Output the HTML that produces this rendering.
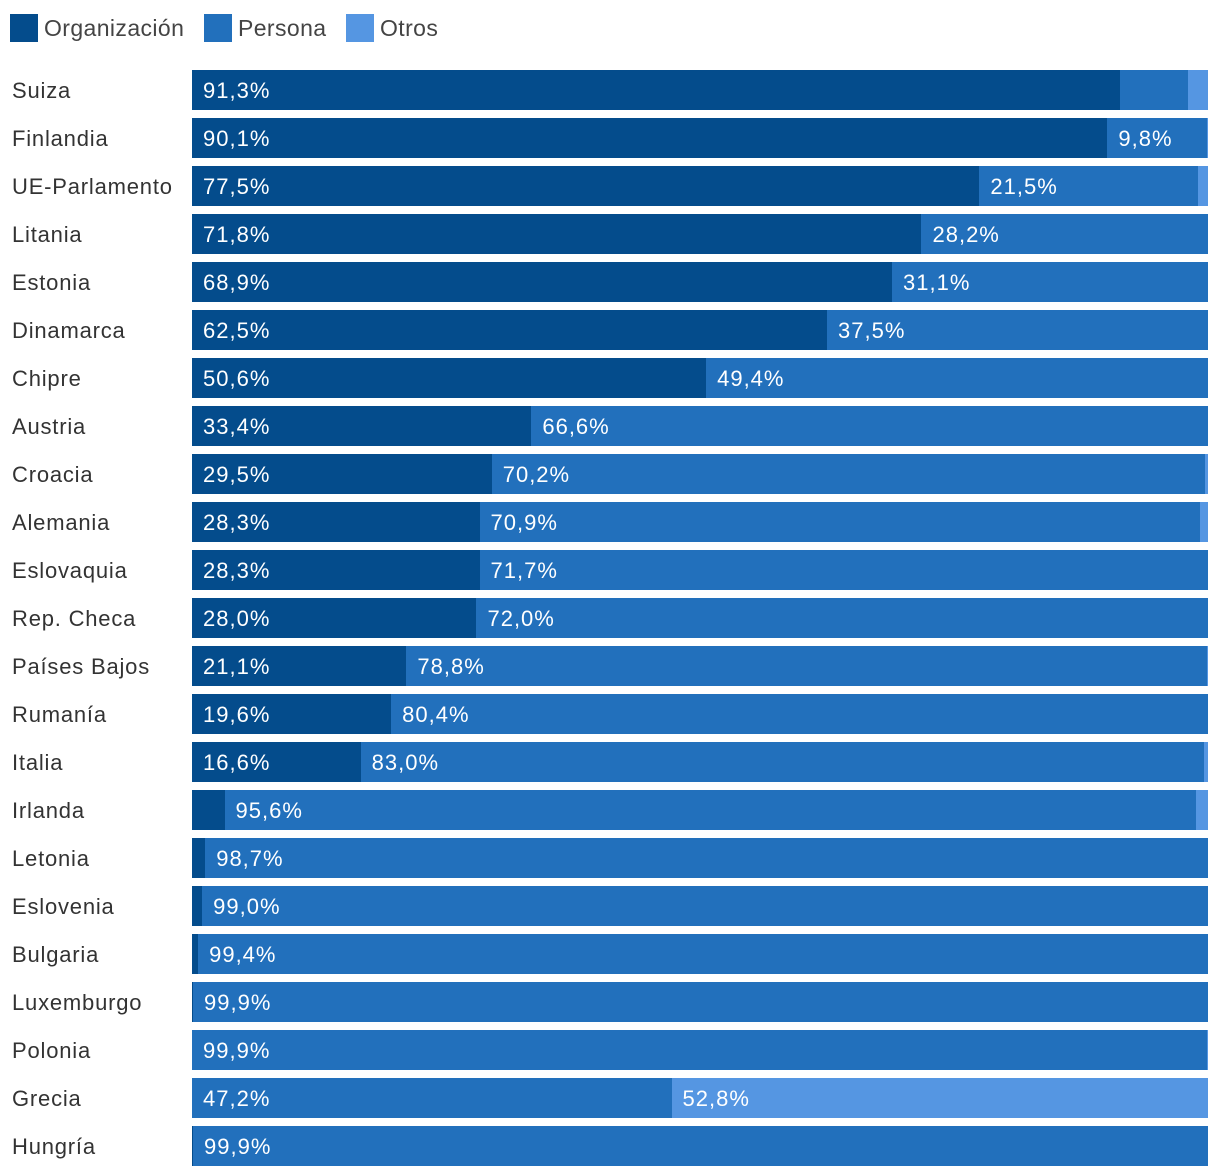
<!DOCTYPE html>
<html><head><meta charset="utf-8"><style>
body{margin:0;background:#fff;font-family:"Liberation Sans",sans-serif;}
#c{position:relative;width:1220px;height:1176px;overflow:hidden}
.lg{position:absolute;top:14px;height:28px;display:flex;align-items:center;font-size:23px;color:#444;letter-spacing:0.4px}
.sw{width:28px;height:28px;margin-right:6px}
.lab{position:absolute;left:12px;font-size:22px;color:#333;line-height:42px;letter-spacing:0.8px}
.seg{position:absolute;height:40px}
.val{position:absolute;font-size:22px;color:#fff;line-height:42px;letter-spacing:1px}
</style></head><body>
<div id="c">
<div class="lg" style="left:10px"><div class="sw" style="background:#044c8c"></div>Organización</div>
<div class="lg" style="left:204px"><div class="sw" style="background:#2270bc"></div>Persona</div>
<div class="lg" style="left:346px"><div class="sw" style="background:#5596e2"></div>Otros</div>
</div>
<script>
const countries=["Suiza","Finlandia","UE-Parlamento","Litania","Estonia","Dinamarca","Chipre","Austria","Croacia","Alemania","Eslovaquia","Rep. Checa","Países Bajos","Rumanía","Italia","Irlanda","Letonia","Eslovenia","Bulgaria","Luxemburgo","Polonia","Grecia","Hungría"];
const organizacion=[91.3,90.1,77.5,71.8,68.9,62.5,50.6,33.4,29.5,28.3,28.3,28.0,21.1,19.6,16.6,3.2,1.3,1.0,0.6,0.1,0.0,0.0,0.1];
const persona=[6.7,9.8,21.5,28.2,31.1,37.5,49.4,66.6,70.2,70.9,71.7,72.0,78.8,80.4,83.0,95.6,98.7,99.0,99.4,99.9,99.9,47.2,99.9];
const otros=[2.0,0.1,1.0,0.0,0.0,0.0,0.0,0.0,0.3,0.8,0.0,0.0,0.1,0.0,0.4,1.2,0.0,0.0,0.0,0.0,0.1,52.8,0.0];
const X0=192,W=1016,Y0=70,PITCH=48;
const x=v=>v/100*W;
const y=i=>Y0+i*PITCH;
const c=document.getElementById('c');
const colors=["#044c8c","#2270bc","#5596e2"];
const names=["organizacion","persona","otros"];
const fmt=v=>v.toFixed(1).replace('.',',')+'%';
countries.forEach((n,i)=>{
  const l=document.createElement('div');
  l.className='lab';l.style.top=y(i)+'px';l.textContent=n;
  
  
  c.appendChild(l);
  let acc=0;
  [organizacion[i],persona[i],otros[i]].forEach((v,k)=>{
    const s=document.createElement('div');
    s.className='seg';s.style.left=(X0+x(acc))+'px';s.style.width=x(v)+'px';
    s.style.top=y(i)+'px';s.style.background=colors[k];
    
    
    c.appendChild(s);
    if(v>=8){
      const t=document.createElement('div');
      t.className='val';t.style.left=(X0+x(acc)+11)+'px';t.style.top=y(i)+'px';
      t.textContent=fmt(v);
      
      
      c.appendChild(t);
    }
    acc+=v;
  });
});
</script>
</body></html>
